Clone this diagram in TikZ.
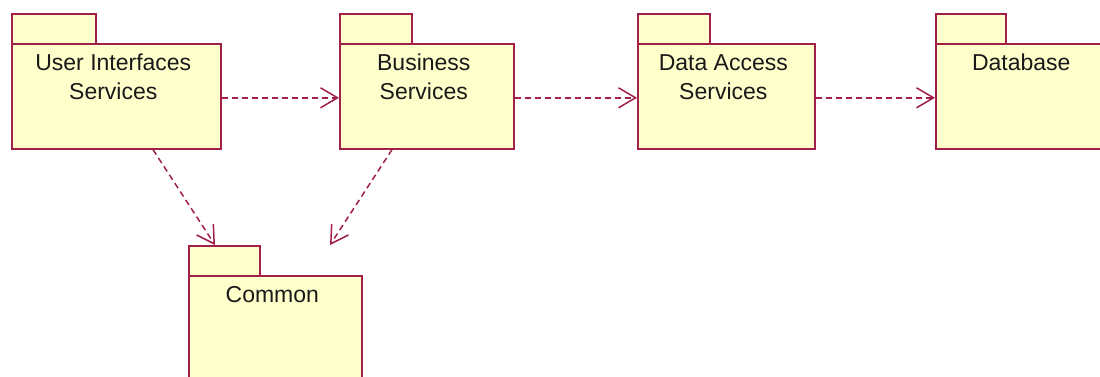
\documentclass[tikz,border=0pt]{standalone}
\usepackage{fontspec}
\setmainfont{Liberation Sans}
\usetikzlibrary{arrows.meta,calc}
\definecolor{pkgline}{HTML}{A0204A}
\definecolor{pkgfill}{HTML}{FFFFCC}
\begin{document}
\begin{tikzpicture}[x=1pt,y=-1pt,
  pkg/.style={draw=pkgline, fill=pkgfill, line width=1.6pt, rectangle, inner sep=0pt, anchor=north west},
  lbl/.style={font=\fontsize{23}{29}\selectfont, align=center, anchor=north, inner sep=0pt, text=black!90},
  dep/.style={draw=pkgline, line width=1.5pt, dash pattern=on 6pt off 4pt,
    -{Straight Barb[length=17pt,width=20pt,line width=1.5pt]}}]
\clip (0,0) rectangle (1100,376);
% User Interfaces Services
\node[pkg, minimum width=84pt, minimum height=30pt] (uitab) at (11,13) {};
\node[pkg, minimum width=209pt, minimum height=105pt] (ui) at (11,43) {};
\node[lbl] (uitext) at ($(ui.north)+(-3,11)$) {User Interfaces\\Services};
% Business Services
\node[pkg, minimum width=72pt, minimum height=30pt] (bstab) at (339,13) {};
\node[pkg, minimum width=174pt, minimum height=105pt] (bs) at (339,43) {};
\node[lbl] (bstext) at ($(bs.north)+(-3,11)$) {Business\\Services};
% Data Access Services
\node[pkg, minimum width=72pt, minimum height=30pt] (datab) at (637,13) {};
\node[pkg, minimum width=177pt, minimum height=105pt] (da) at (637,43) {};
\node[lbl] (datext) at ($(da.north)+(-3,11)$) {Data Access\\Services};
% Database
\node[pkg, minimum width=70pt, minimum height=30pt] (dbtab) at (935,13) {};
\node[pkg, minimum width=177pt, minimum height=105pt] (db) at (935,43) {};
\node[lbl] (dbtext) at ($(db.north)+(-3,11)$) {Database};
% Common
\node[pkg, minimum width=71pt, minimum height=30pt] (cmtab) at (188,245) {};
\node[pkg, minimum width=173pt, minimum height=120pt] (cm) at (188,275) {};
\node[lbl] (cmtext) at ($(cm.north)+(-3,11)$) {Common};
\coordinate (cmfree) at ($(cmtab.north west)+(142,0)$);
% dependencies
\draw[dep] ($(ui.east)+(0,1.5)$) -- ($(bs.west)+(0,1.5)$);
\draw[dep] ($(bs.east)+(0,1.5)$) -- ($(da.west)+(0,1.5)$);
\draw[dep] ($(da.east)+(0,1.5)$) -- ($(db.west)+(0,1.5)$);
\draw[dep] ($(ui.south west)+(142,0)$) -- ($(cmtab.north west)+(27,0)$);
\draw[dep] ($(bs.south west)+(53,0)$) -- (cmfree);
\end{tikzpicture}
\end{document}
